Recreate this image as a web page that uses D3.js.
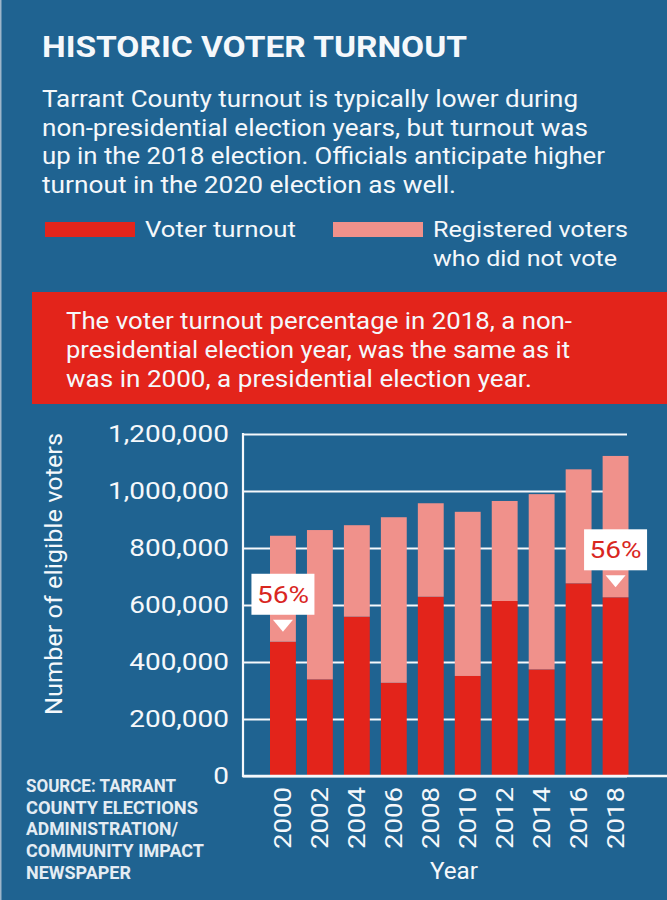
<!DOCTYPE html>
<html>
<head>
<meta charset="utf-8">
<script src="https://cdn.jsdelivr.net/npm/d3@7"></script>
<style>
  body { margin: 0; background: #1f6391; }
  text { font-family: Roboto, "Open Sans", sans-serif; fill: #f5f8fb; }
</style>
</head>
<body>
<script>
// values
var years = ["2000", "2002", "2004", "2006", "2008", "2010", "2012", "2014", "2016", "2018"];
var turnout = [471000, 339000, 559000, 327000, 629000, 351000, 614000, 374000, 676000, 627000];
var notVoted = [372000, 524000, 321000, 581000, 328000, 576000, 351000, 615000, 400000, 496000];
var yTicks = [0, 200000, 400000, 600000, 800000, 1000000, 1200000];
var labelYears = ["2000", "2018"];

var bodyLines = [
  "Tarrant County turnout is typically lower during",
  "non-presidential election years, but turnout was",
  "up in the 2018 election. Officials anticipate higher",
  "turnout in the 2020 election as well."
];
var calloutLines = [
  "The voter turnout percentage in 2018, a non-",
  "presidential election year, was the same as it",
  "was in 2000, a presidential election year."
];
var sourceLines = ["SOURCE: TARRANT", "COUNTY ELECTIONS", "ADMINISTRATION/", "COMMUNITY IMPACT", "NEWSPAPER"];

var red = "#e3241b", pink = "#f0918b", blue = "#1f6391";

var rows = years.map(function(y, i) {
  return { year: y, turnout: turnout[i], notVoted: notVoted[i] };
});

var svg = d3.select("body").append("svg")
  .attr("width", 667)
  .attr("height", 900);

svg.append("rect").attr("width", 667).attr("height", 900).attr("fill", blue);
svg.append("rect").attr("width", 1.5).attr("height", 900).attr("fill", "#9db6ca");

function fit(sel, w) {
  sel.attr("textLength", w).attr("lengthAdjust", "spacingAndGlyphs");
}

// header
svg.append("text")
  .attr("x", 42).attr("y", 57)
  .style("font-size", "29px").style("font-weight", 700)
  .text("HISTORIC VOTER TURNOUT")
  .call(fit, 425);

var bodyW = [536, 546, 563, 414];
svg.selectAll(".body").data(bodyLines).enter().append("text")
  .attr("class", "body")
  .attr("x", 42)
  .attr("y", function(d, i) { return 107 + i * 28.5; })
  .style("font-size", "24px")
  .text(function(d) { return d; })
  .each(function(d, i) { d3.select(this).call(fit, bodyW[i]); });

// legend
svg.append("rect").attr("x", 45).attr("y", 222).attr("width", 90).attr("height", 15).attr("fill", red);
svg.append("text").attr("x", 145).attr("y", 237).style("font-size", "22px")
  .text("Voter turnout").call(fit, 151);
svg.append("rect").attr("x", 333).attr("y", 222).attr("width", 90).attr("height", 15).attr("fill", pink);
svg.append("text").attr("x", 433).attr("y", 237).style("font-size", "22px")
  .text("Registered voters").call(fit, 195);
svg.append("text").attr("x", 433).attr("y", 266).style("font-size", "22px")
  .text("who did not vote").call(fit, 184);

// callout box
svg.append("rect").attr("x", 32).attr("y", 292).attr("width", 635).attr("height", 112).attr("fill", red);
var callW = [506, 504, 466];
svg.selectAll(".call").data(calloutLines).enter().append("text")
  .attr("class", "call")
  .attr("x", 66)
  .attr("y", function(d, i) { return 329 + i * 29; })
  .style("font-size", "24px")
  .text(function(d) { return d; })
  .each(function(d, i) { d3.select(this).call(fit, callW[i]); });

// scales
var x = d3.scaleBand().domain(years).range([270, 628.5]).paddingInner(0.3).paddingOuter(0);
var y = d3.scaleLinear().domain([0, 1200000]).range([776, 434]);

// gridlines + y labels
var yAxis = svg.append("g")
  .attr("transform", "translate(243,0)")
  .call(d3.axisLeft(y).tickValues(yTicks).tickFormat(d3.format(",")).tickSizeInner(-384).tickSizeOuter(0).tickPadding(14));
yAxis.select(".domain").remove();
yAxis.selectAll("line").attr("stroke", "#f5f8fb").attr("stroke-width", 2.2);
var tickText = yAxis.selectAll("text")
  .style("font-size", "24px").style("font-family", "Roboto, sans-serif").attr("fill", "#f5f8fb");
var k = 121 / tickText.filter(function(d) { return d === 1200000; }).node().getComputedTextLength();
tickText.each(function() {
  d3.select(this).call(fit, this.getComputedTextLength() * k);
});

// bars
var stack = d3.stack().keys(["turnout", "notVoted"]);
var series = stack(rows);
var colors = { turnout: red, notVoted: pink };

svg.append("g").selectAll("g").data(series).enter().append("g")
  .attr("fill", function(d) { return colors[d.key]; })
  .selectAll("rect").data(function(d) { return d; }).enter().append("rect")
  .attr("x", function(d) { return x(d.data.year); })
  .attr("width", x.bandwidth())
  .attr("y", function(d) { return y(d[1]); })
  .attr("height", function(d) { return y(d[0]) - y(d[1]); });

// axis lines
svg.append("line").attr("x1", 243).attr("x2", 243).attr("y1", y(1200000) - 1).attr("y2", y(0) + 1)
  .attr("stroke", "#f5f8fb").attr("stroke-width", 2.2);
svg.append("line").attr("x1", 242).attr("x2", 667).attr("y1", y(0)).attr("y2", y(0))
  .attr("stroke", "#f5f8fb").attr("stroke-width", 2.5);

// year labels
var xAxis = svg.append("g")
  .attr("transform", "translate(0,787)")
  .call(d3.axisBottom(x).tickSize(0).tickPadding(0));
xAxis.select(".domain").remove();
xAxis.selectAll("text")
  .attr("transform", "rotate(-90)")
  .attr("text-anchor", "end")
  .attr("x", 0).attr("y", 0).attr("dy", "0.36em")
  .style("font-size", "23px").style("font-family", "Roboto, sans-serif").attr("fill", "#f5f8fb")
  .call(fit, 62);

svg.append("text")
  .attr("x", 454).attr("y", 879)
  .attr("text-anchor", "middle")
  .style("font-size", "23px")
  .text("Year").call(fit, 48);

svg.append("text")
  .attr("transform", "translate(62,574) rotate(-90)")
  .attr("text-anchor", "middle")
  .style("font-size", "23px")
  .text("Number of eligible voters").call(fit, 282);

// source
var srcW = [150, 172, 152, 178, 105];
svg.selectAll(".src").data(sourceLines).enter().append("text")
  .attr("class", "src")
  .attr("x", 26)
  .attr("y", function(d, i) { return 792 + i * 21.7; })
  .style("font-size", "18px").style("font-weight", 700)
  .style("fill", "#e4ecf3")
  .text(function(d) { return d; })
  .each(function(d, i) { d3.select(this).call(fit, srcW[i]); });

// percent callouts
var pctRows = rows.filter(function(d) { return labelYears.indexOf(d.year) >= 0; });
var tag = svg.append("g").selectAll("g").data(pctRows).enter().append("g")
  .attr("transform", function(d) {
    return "translate(" + (x(d.year) + x.bandwidth() / 2) + "," + y(d.turnout) + ")";
  });
tag.append("rect")
  .attr("x", -31.5).attr("y", -68).attr("width", 63).attr("height", 41)
  .attr("fill", "#ffffff");
tag.append("path")
  .attr("d", "M-10,-22L10,-22L0,-10Z")
  .attr("fill", "#ffffff");
tag.append("text")
  .attr("x", 0).attr("y", -39)
  .attr("text-anchor", "middle")
  .style("font-size", "23px")
  .style("fill", "#d9271f")
  .text(function(d) {
    return Math.round(d.turnout / (d.turnout + d.notVoted) * 100) + "%";
  })
  .call(fit, 52);
</script>
</body>
</html>
